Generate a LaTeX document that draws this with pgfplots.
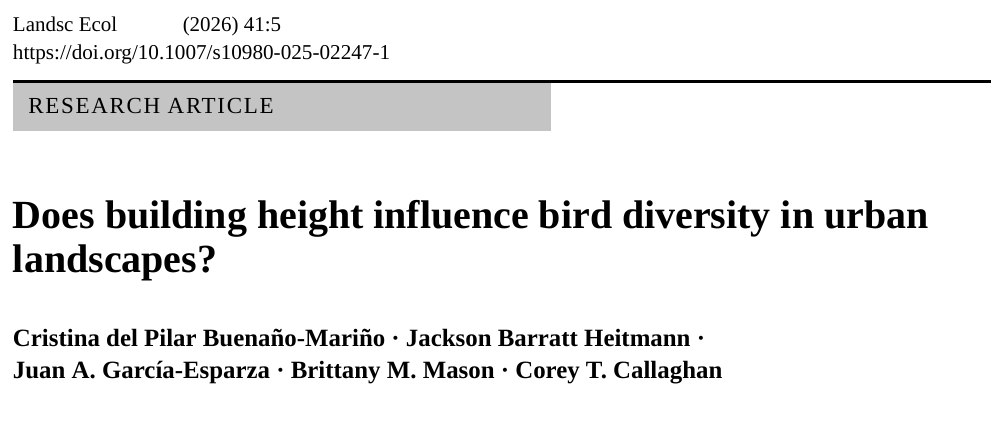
\documentclass[border=0pt]{standalone}
\usepackage{pgfplots}
\pgfplotsset{compat=1.18}
\usepackage{fontspec}
\setmainfont{Liberation Serif}
\definecolor{boxgray}{HTML}{C4C4C4}
\tikzset{txt/.style={inner sep=0pt, outer sep=0pt, anchor=base west}}
\begin{document}
\begin{tikzpicture}
\begin{axis}[hide axis, scale only axis, width=992pt, height=423pt,
  xmin=0, xmax=992, ymin=0, ymax=423, y dir=reverse, clip=false]
\addplot[fill=boxgray, draw=none] coordinates {(13,83.2) (551.7,83.2) (551.7,130.7) (13,130.7)} -- cycle;
\addplot[black, line width=2.7pt] coordinates {(13,81.7) (992,81.7)};
\node[txt] at (axis cs:13,31.7) {\fontsize{21}{24}\selectfont Landsc Ecol};
\node[txt] at (axis cs:183,31.7) {\fontsize{21}{24}\selectfont (2026) 41:5};
\node[txt] at (axis cs:13,60) {\fontsize{21.2}{24}\selectfont https://doi.org/10.1007/s10980-025-02247-1};
\node[txt] at (axis cs:28.3,113.8) {\fontsize{23}{26}\selectfont\addfontfeature{LetterSpace=7.5}RESEARCH ARTICLE};
\node[txt] at (axis cs:13,229.3) {\fontsize{40}{44}\selectfont\bfseries Does building height influence bird diversity in urban};
\node[txt] at (axis cs:13,273.3) {\fontsize{40}{44}\selectfont\bfseries landscapes?};
\node[txt] at (axis cs:13,346.7) {\fontsize{24.9}{28}\selectfont\bfseries Cristina del Pilar Buenaño-Mariño · Jackson Barratt Heitmann ·};
\node[txt] at (axis cs:13,378.8) {\fontsize{24.9}{28}\selectfont\bfseries Juan A. García-Esparza · Brittany M. Mason · Corey T. Callaghan};
\end{axis}
\useasboundingbox (current axis.south west) rectangle (current axis.north east);
\end{tikzpicture}
\end{document}
